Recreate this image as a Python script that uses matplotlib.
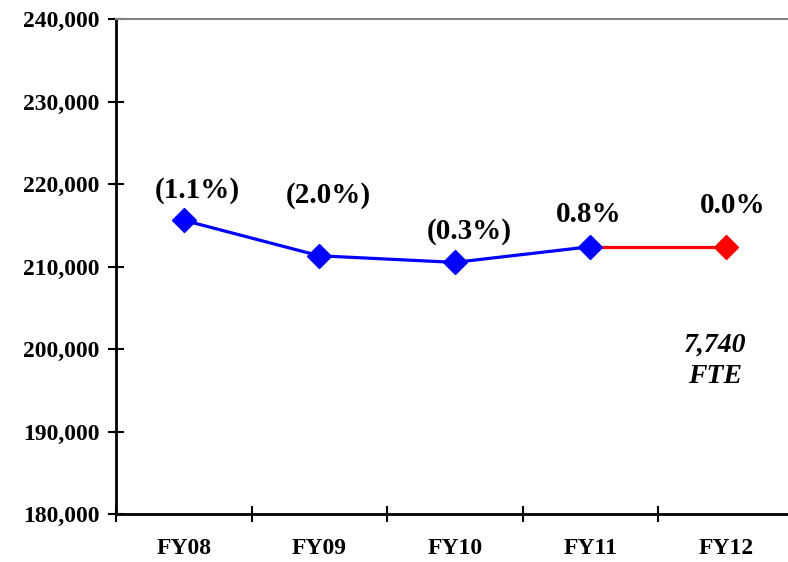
import matplotlib
matplotlib.use("Agg")
import matplotlib.pyplot as plt
from matplotlib.ticker import FuncFormatter, FixedLocator

categories = ["FY08", "FY09", "FY10", "FY11", "FY12"]
values = [215600, 211300, 210500, 212400, 212400]
pct_labels = ["(1.1%)", "(2.0%)", "(0.3%)", "0.8%", "0.0%"]
yticks = [180000, 190000, 200000, 210000, 220000, 230000, 240000]

plt.rcParams['font.family'] = ['Liberation Serif', 'DejaVu Serif']

fig = plt.figure(figsize=(7.88, 5.62), dpi=100)
ax = fig.add_axes([116/788, 48/562, (793.5-116)/788, (514-19)/562])

x = list(range(len(categories)))
ax.plot(x[3:5], values[3:5], color='#ff0000', lw=2.3, marker='D', ms=12,
        markevery=[1], zorder=3)
ax.plot(x[:4], values[:4], color='#0000ff', lw=2.3, marker='D', ms=12, zorder=4)

ax.set_xlim(-0.5, 4.5)
ax.set_ylim(180000, 240000)
ax.set_yticks(yticks)
ax.yaxis.set_major_formatter(FuncFormatter(lambda v, p: f"{int(v):,}"))
ax.tick_params(axis='y', direction='inout', length=12, width=1.5, labelsize=17, pad=6)
for t in ax.get_yticklabels():
    t.set_fontweight('bold')

ax.set_xticks(x)
ax.set_xticklabels(categories, fontsize=17, fontweight='bold')
ax.tick_params(axis='x', which='major', length=0, pad=17)
ax.xaxis.set_minor_locator(FixedLocator([i - 0.5 for i in range(len(categories) + 1)]))
ax.tick_params(axis='x', which='minor', direction='inout', length=12, width=1.5)

ax.spines['right'].set_visible(False)
ax.spines['top'].set_color('#808080')
ax.spines['top'].set_linewidth(1.5)
ax.spines['left'].set_linewidth(2)
ax.spines['bottom'].set_linewidth(2)

# percent labels (offsets in pixels from each point)
offsets = [(14, 30), (9, 60), (14, 31), (-2, 32), (7, 41)]
for xi, yi, lab, (dx, dy) in zip(x, values, pct_labels, offsets):
    ax.annotate(lab, (xi, yi), xytext=(dx * 0.72, dy * 0.72), textcoords='offset points',
                ha='center', va='center', fontsize=21, fontweight='bold')

ax.annotate("7,740\nFTE", (4, values[4]), xytext=(-11 * 0.72, -114 * 0.72),
            textcoords='offset points', ha='center', va='center', fontsize=20,
            fontweight='bold', fontstyle='italic', linespacing=1.3)

fig.savefig("out.png", dpi=100)
